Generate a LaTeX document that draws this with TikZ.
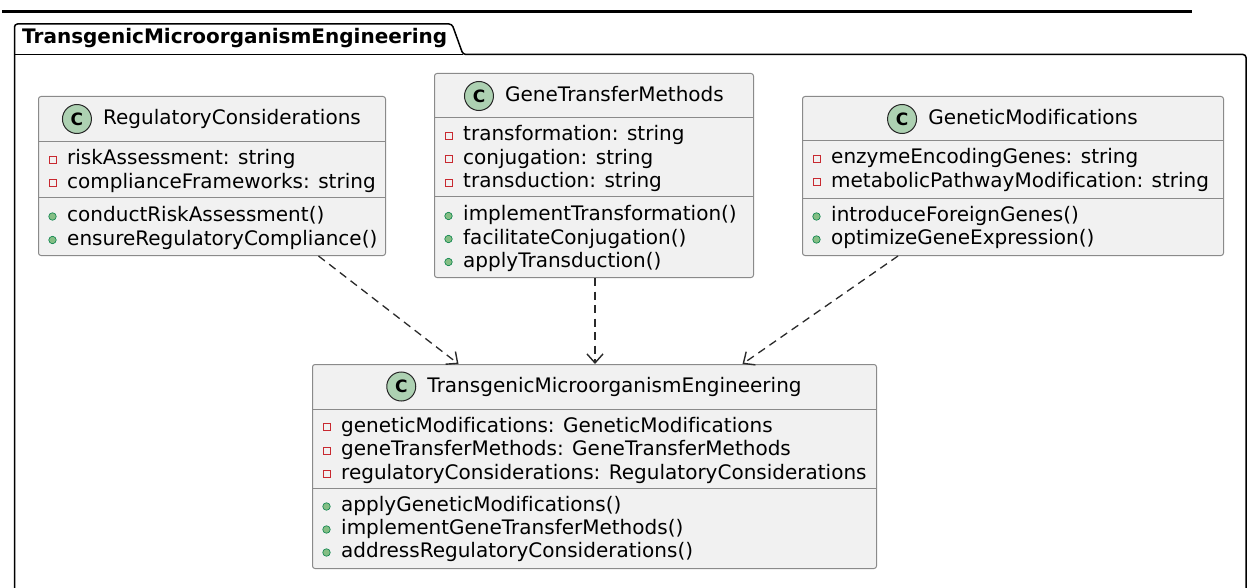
\documentclass[tikz,border=0pt]{standalone}
\usepackage{fontspec}
\setmainfont[Ligatures={NoCommon}]{DejaVu Sans}
\usetikzlibrary{arrows.meta,calc}
\definecolor{boxfill}{HTML}{F1F1F1}
\definecolor{boxline}{HTML}{8A8A8A}
\definecolor{spotfill}{HTML}{ADD1B2}
\definecolor{privred}{HTML}{C82930}
\definecolor{pubfill}{HTML}{84BE84}
\definecolor{publine}{HTML}{038048}
\definecolor{arrowc}{HTML}{2A2A2A}
\tikzset{
 cls/.style={draw=boxline, fill=boxfill, line width=1pt, rounded corners=2.5pt, inner sep=0pt, anchor=north west},
 divider/.style={draw=boxline, line width=1pt},
 clstitle/.style={font=\fontsize{20}{24}\selectfont, inner sep=0pt, anchor=base, text=black},
 member/.style={font=\fontsize{20}{24}\selectfont, inner sep=0pt, anchor=base west, text=black},
 spot/.style={circle, draw=black!85, fill=spotfill, line width=1pt, minimum size=29pt, inner sep=0pt, font=\fontsize{17}{17}\selectfont\bfseries},
 priv/.style={draw=privred, line width=1pt, minimum size=7pt, inner sep=0pt},
 pub/.style={circle, draw=publine, fill=pubfill, line width=0.6pt, minimum size=7.5pt, inner sep=0pt},
 dep/.style={draw=arrowc, line width=1.3pt, dash pattern=on 8pt off 5.5pt, -{Straight Barb[length=9pt,width=16pt,line width=1.4pt]}},
 pkg/.style={draw=black, line width=1.5pt},
}
\begin{document}
\begin{tikzpicture}[x=1pt,y=-1pt]
\useasboundingbox[fill=white] (0,0) rectangle (1247,588);
% top rule
\draw[line width=3.8pt] (2,11.5) -- (1192,11.5);
% package frame
\draw[pkg, rounded corners=3pt] (14.5,600) -- (14.5,24) -- (452,24) -- (463,54.5) -- (1246,54.5) -- (1246,600);
\draw[pkg] (14.5,54.5) -- (463,54.5);
\node[anchor=base west, inner sep=0pt, font=\fontsize{20}{24}\selectfont\bfseries] (pkgT) at (22,43.5) {TransgenicMicroorganismEngineering};

% RegulatoryConsiderations
\node[cls, minimum width=347pt, minimum height=159pt] (reg) at (38,96) {};
\draw[divider] (38,142) -- (385,142);
\draw[divider] (38,198) -- (385,198);
\node[clstitle] (regT) at (232,125) {RegulatoryConsiderations};
\node[spot] (regC) at ([xshift=-26pt,yshift=6pt]regT.base west) {C};
\node[priv] (reg1) at (52.5,160) {};
\node[member] (reg1t) at (67,165) {riskAssessment: string};
\node[priv] (reg2) at (52.5,183.5) {};
\node[member] (reg2t) at (67,188.5) {complianceFrameworks: string};
\node[pub] (reg3) at (52.5,216.5) {};
\node[member] (reg3t) at (67,221.5) {conductRiskAssessment()};
\node[pub] (reg4) at (52.5,240) {};
\node[member] (reg4t) at (67,245) {ensureRegulatoryCompliance()};

% GeneTransferMethods
\node[cls, minimum width=319pt, minimum height=204pt] (gtm) at (434,73) {};
\draw[divider] (434,118) -- (753,118);
\draw[divider] (434,197) -- (753,197);
\node[clstitle] (gtmT) at (614.5,102) {GeneTransferMethods};
\node[spot] (gtmC) at ([xshift=-26pt,yshift=6pt]gtmT.base west) {C};
\node[priv] (gtm1) at (448.5,136) {};
\node[member] (gtm1t) at (463,141) {transformation: string};
\node[priv] (gtm2) at (448.5,159.4) {};
\node[member] (gtm2t) at (463,164.4) {conjugation: string};
\node[priv] (gtm3) at (448.5,182.8) {};
\node[member] (gtm3t) at (463,187.8) {transduction: string};
\node[pub] (gtm4) at (448.5,216) {};
\node[member] (gtm4t) at (463,221) {implementTransformation()};
\node[pub] (gtm5) at (448.5,239) {};
\node[member] (gtm5t) at (463,244) {facilitateConjugation()};
\node[pub] (gtm6) at (448.5,262) {};
\node[member] (gtm6t) at (463,267) {applyTransduction()};

% GeneticModifications
\node[cls, minimum width=421pt, minimum height=159pt] (gen) at (802,96) {};
\draw[divider] (802,141) -- (1223,141);
\draw[divider] (802,198.5) -- (1223,198.5);
\node[clstitle] (genT) at (1033,125) {GeneticModifications};
\node[spot] (genC) at ([xshift=-26pt,yshift=6pt]genT.base west) {C};
\node[priv] (gen1) at (816.5,159) {};
\node[member] (gen1t) at (831,164) {enzymeEncodingGenes: string};
\node[priv] (gen2) at (816.5,182.5) {};
\node[member] (gen2t) at (831,187.5) {metabolicPathwayModification: string};
\node[pub] (gen3) at (816.5,216.5) {};
\node[member] (gen3t) at (831,221.5) {introduceForeignGenes()};
\node[pub] (gen4) at (816.5,239.5) {};
\node[member] (gen4t) at (831,244.5) {optimizeGeneExpression()};

% TransgenicMicroorganismEngineering
\node[cls, minimum width=564pt, minimum height=204pt] (tme) at (312,364) {};
\draw[divider] (312,409) -- (876,409);
\draw[divider] (312,488) -- (876,488);
\node[clstitle] (tmeT) at (614.5,392.5) {TransgenicMicroorganismEngineering};
\node[spot] (tmeC) at ([xshift=-26pt,yshift=6pt]tmeT.base west) {C};
\node[priv] (tme1) at (326.5,427) {};
\node[member] (tme1t) at (341,432) {geneticModifications: GeneticModifications};
\node[priv] (tme2) at (326.5,450.5) {};
\node[member] (tme2t) at (341,455.5) {geneTransferMethods: GeneTransferMethods};
\node[priv] (tme3) at (326.5,474) {};
\node[member] (tme3t) at (341,479) {regulatoryConsiderations: RegulatoryConsiderations};
\node[pub] (tme4) at (326.5,506.5) {};
\node[member] (tme4t) at (341,511.5) {applyGeneticModifications()};
\node[pub] (tme5) at (326.5,529.5) {};
\node[member] (tme5t) at (341,534.5) {implementGeneTransferMethods()};
\node[pub] (tme6) at (326.5,552.5) {};
\node[member] (tme6t) at (341,557.5) {addressRegulatoryConsiderations()};

% dependencies
\draw[dep] ([xshift=106.5pt]reg.south) -- ([xshift=-136pt]tme.north);
\draw[dep] ([xshift=1pt]gtm.south) -- ([xshift=0.5pt]tme.north);
\draw[dep] ([xshift=-115pt]gen.south) -- ([xshift=148pt]tme.north);
\end{tikzpicture}
\end{document}
